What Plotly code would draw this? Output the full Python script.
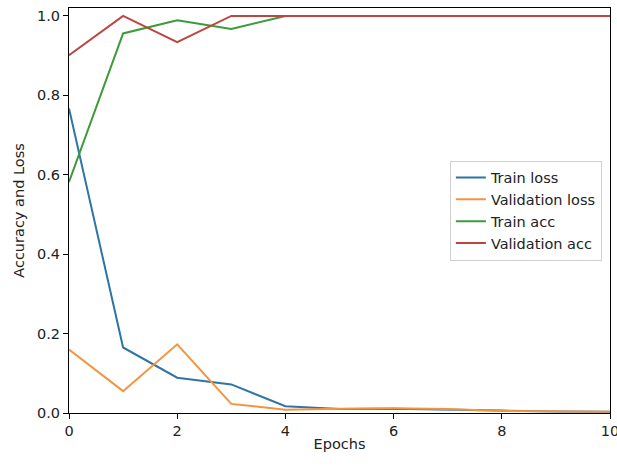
import plotly.graph_objects as go

epochs = [0, 1, 2, 3, 4, 5, 6, 7, 8, 9, 10]
train_loss = [0.767, 0.165, 0.089, 0.072, 0.017, 0.010, 0.011, 0.008, 0.006, 0.004, 0.003]
val_loss = [0.160, 0.055, 0.173, 0.023, 0.008, 0.011, 0.012, 0.010, 0.005, 0.004, 0.003]
train_acc = [0.582, 0.956, 0.989, 0.967, 1.0, 1.0, 1.0, 1.0, 1.0, 1.0, 1.0]
val_acc = [0.901, 1.0, 0.934, 1.0, 1.0, 1.0, 1.0, 1.0, 1.0, 1.0, 1.0]

series = [
    ("Train loss", train_loss, "#2e75a6"),
    ("Validation loss", val_loss, "#f39440"),
    ("Train acc", train_acc, "#3b9b3b"),
    ("Validation acc", val_acc, "#bd4540"),
]

FONT = dict(family="DejaVu Sans", size=14.5, color="#222")

fig = go.Figure()
for name, vals, color in series:
    fig.add_trace(go.Scatter(x=epochs, y=vals, mode="lines", name=name,
                             line=dict(color=color, width=2)))

axis_common = dict(showline=True, linecolor="black", linewidth=1, mirror=True,
                   ticks="outside", ticklen=5, tickwidth=1, tickcolor="black",
                   showgrid=False, zeroline=False, automargin=False,
                   ticklabeloverflow="allow",
                   tickfont=FONT, title_font=FONT)

fig.update_layout(
    width=617, height=466,
    margin=dict(l=69, r=7, t=8, b=53),
    plot_bgcolor="white", paper_bgcolor="white",
    font=FONT,
    xaxis=dict(range=[0, 10], tickvals=[0, 2, 4, 6, 8, 10],
               title=dict(text="Epochs", standoff=0), **axis_common),
    yaxis=dict(range=[0, 1.02], tickvals=[0, 0.2, 0.4, 0.6, 0.8, 1.0], tickformat=".1f",
               title=dict(text="Accuracy and Loss", standoff=8), **axis_common),
    legend=dict(x=0.985, y=0.5, xanchor="right", yanchor="middle",
                bgcolor="rgba(255,255,255,0.8)", bordercolor="#d0d0d0", borderwidth=1,
                font=FONT),
    showlegend=True,
)

fig.write_html("out.html", config={"displayModeBar": False},
               post_script="document.body.style.margin='0';")
